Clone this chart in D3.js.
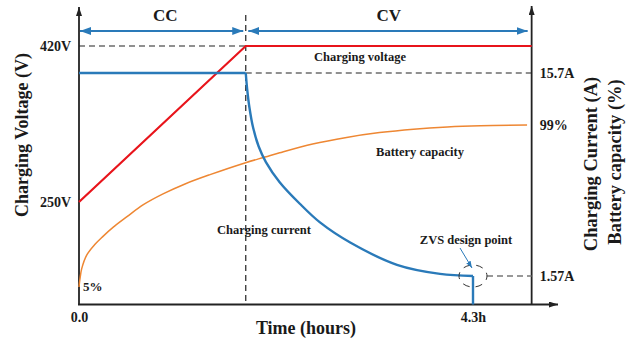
<!DOCTYPE html>
<html>
<head>
<meta charset="utf-8">
<script src="https://cdn.jsdelivr.net/npm/d3@7/dist/d3.min.js"></script>
<style>
  html, body { margin: 0; padding: 0; background: #fff; }
  svg text { font-family: "Liberation Serif", "Times New Roman", serif; font-weight: bold; fill: #1a1a1a; }
</style>
</head>
<body>
<svg id="chart" width="634" height="346"></svg>
<script>
// Charging profile: constant-current (CC) then constant-voltage (CV)
const phaseBounds = [0, 1.82, 4.94];          // start, CC→CV switch, end of window (h)
const phaseNames = ["CC", "CV"];

const timeTicks = [0, 4.3];
const timeTickLabels = ["0.0", "4.3h"];

const voltageTime = [0, 1.82, 4.94];
const voltageValues = [250, 420, 420];
const voltageTicks = [250, 420];

const currentTime = [0, 1.82, 1.835, 1.86, 1.90, 1.96, 2.04, 2.19, 2.41, 2.63, 2.96, 3.47, 3.94, 4.3];
const currentValues = [15.7, 15.7, 14.6, 13.3, 11.9, 10.6, 9.5, 8.1, 6.6, 5.3, 3.9, 2.35, 1.72, 1.57];
const currentTicks = [15.7, 1.57];

const capacityTime = [0, 0.01, 0.029, 0.084, 0.175, 0.262, 0.371, 0.524, 0.698, 0.917, 1.157, 1.43, 1.81, 2.03, 2.19, 2.55, 2.92, 3.28, 3.65, 4.02, 4.38, 4.89];
const capacityValues = [5, 9.5, 15.5, 23.5, 29.8, 34.4, 39.6, 45.8, 52.6, 59.0, 64.8, 70.2, 77.0, 80.4, 82.9, 88.0, 91.8, 94.6, 96.6, 97.9, 98.6, 99.0];
const capacityTicks = [99];

const zvsPoint = { t: 4.3, i: 1.57 };

const svg = d3.select("#chart");
const C = { red: "#e8141b", blue: "#2a7ab9", orange: "#ee8733", axis: "#222" };

// Scales
const x = d3.scaleLinear().domain([0, 4.3]).range([79, 473]);
const yV = d3.scaleLinear().domain([250, 420]).range([202, 46]);
const yI = d3.scaleLinear().domain([1.57, 15.7]).range([276, 73]);
const yC = d3.scaleLinear().domain([5, 99]).range([287, 125]);
const baseY = 304.5, topY = 7;
const xL = x(0), xR = x(phaseBounds[2]), xSplit = x(phaseBounds[1]);

// Markers
const defs = svg.append("defs");
function marker(id, color, w, h, orient) {
  defs.append("marker").attr("id", id)
    .attr("viewBox", `0 0 ${w} ${h}`).attr("refX", w).attr("refY", h / 2)
    .attr("markerWidth", w).attr("markerHeight", h)
    .attr("markerUnits", "userSpaceOnUse").attr("orient", orient)
    .append("path").attr("d", `M0,0L${w},${h / 2}L0,${h}Z`).attr("fill", color);
}
marker("blueHead", C.blue, 11, 8, "auto-start-reverse");
marker("axisHead", C.axis, 9, 6, "auto");
marker("smallBlue", C.blue, 7, 5, "auto");

// Axes lines with arrows
const axisG = svg.append("g");
axisG.append("line").attr("x1", xL).attr("y1", baseY).attr("x2", xL).attr("y2", topY)
  .attr("stroke", C.axis).attr("stroke-width", 1.8).attr("marker-end", "url(#axisHead)");
axisG.append("line").attr("x1", xR).attr("y1", baseY).attr("x2", xR).attr("y2", topY - 1)
  .attr("stroke", C.axis).attr("stroke-width", 1.8).attr("marker-end", "url(#axisHead)");
axisG.append("line").attr("x1", xL - 1).attr("y1", baseY).attr("x2", 558).attr("y2", baseY)
  .attr("stroke", C.axis).attr("stroke-width", 1.8).attr("marker-end", "url(#axisHead)");

// Tick labels via d3 axes (domain/ticks hidden)
function styleAxis(g) {
  g.select(".domain").remove();
  g.selectAll(".tick line").remove();
  g.selectAll("text").attr("font-size", 14).attr("fill", "#1a1a1a")
    .style("font-family", '"Liberation Serif", serif').style("font-weight", "bold");
}
svg.append("g").attr("transform", `translate(${xL},0)`)
  .call(d3.axisLeft(yV).tickValues(voltageTicks).tickFormat(d => d + "V").tickSize(0).tickPadding(8))
  .call(styleAxis);
svg.append("g").attr("transform", `translate(${xR},0)`)
  .call(d3.axisRight(yI).tickValues(currentTicks).tickFormat(d => d + "A").tickSize(0).tickPadding(8))
  .call(styleAxis);
svg.append("g").attr("transform", `translate(${xR},0)`)
  .call(d3.axisRight(yC).tickValues(capacityTicks).tickFormat(d => d + "%").tickSize(0).tickPadding(8))
  .call(styleAxis);
svg.append("g").attr("transform", `translate(0,${baseY})`)
  .call(d3.axisBottom(x).tickValues(timeTicks).tickFormat((d, i) => timeTickLabels[i]).tickSize(0).tickPadding(8))
  .call(styleAxis);

// Axis titles
svg.append("text").attr("transform", "translate(22,135) rotate(-90)")
  .attr("text-anchor", "middle").attr("dominant-baseline", "central")
  .attr("font-size", 18).text("Charging Voltage (V)");
svg.append("text").attr("transform", "translate(591,164) rotate(-90)")
  .attr("text-anchor", "middle").attr("dominant-baseline", "central")
  .attr("font-size", 18.5).text("Charging Current (A)");
svg.append("text").attr("transform", "translate(615,162) rotate(-90)")
  .attr("text-anchor", "middle").attr("dominant-baseline", "central")
  .attr("font-size", 18.5).text("Battery capacity (%)");
svg.append("text").attr("x", 306).attr("y", 334).attr("text-anchor", "middle")
  .attr("font-size", 18).text("Time (hours)");

// CC / CV phase arrows
const phaseY = 31;
phaseNames.forEach((name, k) => {
  const a = x(phaseBounds[k]) + (k === 0 ? 1 : 2.5);
  const b = x(phaseBounds[k + 1]) - (k === 0 ? 2.5 : 4);
  svg.append("line").attr("x1", a).attr("y1", phaseY).attr("x2", b).attr("y2", phaseY)
    .attr("stroke", C.blue).attr("stroke-width", 2.2)
    .attr("marker-start", "url(#blueHead)").attr("marker-end", "url(#blueHead)");
  svg.append("text").attr("x", (x(phaseBounds[k]) + x(phaseBounds[k + 1])) / 2 + (k === 0 ? 3 : 0))
    .attr("y", 21).attr("text-anchor", "middle").attr("font-size", 17).text(name);
});

// Dashed guides
const dash = "6,4";
svg.append("line").attr("x1", xSplit).attr("y1", 15).attr("x2", xSplit).attr("y2", baseY)
  .attr("stroke", "#222").attr("stroke-width", 1.2).attr("stroke-dasharray", dash);
svg.append("line").attr("x1", xL).attr("y1", yV(420)).attr("x2", xSplit).attr("y2", yV(420))
  .attr("stroke", "#222").attr("stroke-width", 1.1).attr("stroke-dasharray", dash);
svg.append("line").attr("x1", xSplit).attr("y1", yI(15.7)).attr("x2", xR).attr("y2", yI(15.7))
  .attr("stroke", "#222").attr("stroke-width", 1.1).attr("stroke-dasharray", dash);
svg.append("line").attr("x1", x(zvsPoint.t) + 14).attr("y1", yI(zvsPoint.i)).attr("x2", xR).attr("y2", yI(zvsPoint.i))
  .attr("stroke", "#777").attr("stroke-width", 1.3).attr("stroke-dasharray", dash);

// Battery capacity curve
const capData = capacityTime.map((t, i) => [t, capacityValues[i]]);
svg.append("path").datum(capData)
  .attr("d", d3.line().x(d => x(d[0])).y(d => yC(d[1])).curve(d3.curveCatmullRom.alpha(0.5)))
  .attr("fill", "none").attr("stroke", C.orange).attr("stroke-width", 1.5);

// Charging voltage
const vData = voltageTime.map((t, i) => [t, voltageValues[i]]);
svg.append("path").datum(vData)
  .attr("d", d3.line().x(d => x(d[0])).y(d => yV(d[1])))
  .attr("fill", "none").attr("stroke", C.red).attr("stroke-width", 2.2);

// Charging current: flat CC part then CV decay
const iData = currentTime.map((t, i) => [t, currentValues[i]]);
const iLine = d3.line().x(d => x(d[0])).y(d => yI(d[1]));
svg.append("path").datum(iData.slice(0, 2)).attr("d", iLine)
  .attr("fill", "none").attr("stroke", C.blue).attr("stroke-width", 2.4);
svg.append("path").datum(iData.slice(1)).attr("d", iLine.curve(d3.curveCatmullRom.alpha(0.5)))
  .attr("fill", "none").attr("stroke", C.blue).attr("stroke-width", 2.4);
svg.append("line").attr("x1", x(zvsPoint.t)).attr("y1", yI(zvsPoint.i))
  .attr("x2", x(zvsPoint.t)).attr("y2", baseY)
  .attr("stroke", C.blue).attr("stroke-width", 2.4);

// ZVS design point marker
svg.append("ellipse").attr("cx", x(zvsPoint.t)).attr("cy", yI(zvsPoint.i))
  .attr("rx", 14).attr("ry", 11).attr("fill", "none")
  .attr("stroke", "#333").attr("stroke-width", 1).attr("stroke-dasharray", "7,6")
  .attr("stroke-dashoffset", 3);
svg.append("line").attr("x1", x(zvsPoint.t) - 13).attr("y1", 248)
  .attr("x2", x(zvsPoint.t) - 1).attr("y2", yI(zvsPoint.i) - 8)
  .attr("stroke", C.blue).attr("stroke-width", 1).attr("marker-end", "url(#smallBlue)");

// Curve labels
const labels = [
  { text: "Charging voltage", x: 360, y: 57 },
  { text: "Battery capacity", x: 420, y: 152 },
  { text: "Charging current", x: 264, y: 230 },
  { text: "ZVS design point", x: 466, y: 240 }
];
svg.selectAll(".lbl").data(labels).join("text").attr("class", "lbl")
  .attr("x", d => d.x).attr("y", d => d.y).attr("text-anchor", "middle")
  .attr("dominant-baseline", "central").attr("font-size", 12.5).text(d => d.text);
svg.append("text").attr("x", xL + 4).attr("y", yC(capacityValues[0]) - 1)
  .attr("dominant-baseline", "central").attr("font-size", 13).text(capacityValues[0] + "%");
</script>
</body>
</html>
